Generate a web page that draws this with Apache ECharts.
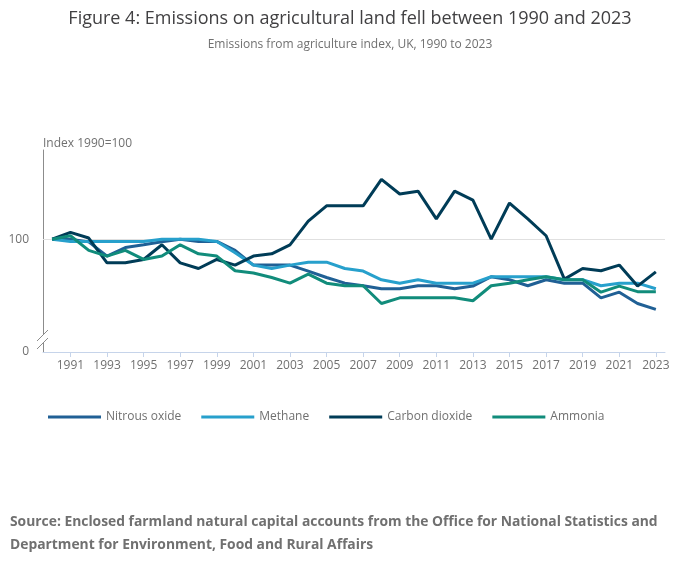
<!DOCTYPE html>
<html>
<head>
<meta charset="utf-8">
<script src="https://cdn.jsdelivr.net/npm/echarts@6/dist/echarts.min.js"></script>
<style>
html,body{margin:0;padding:0;background:#fff;}
#chart{width:700px;height:574px;}
</style>
</head>
<body>
<div id="chart"></div>
<script>
var years = ['1990','1991','1992','1993','1994','1995','1996','1997','1998','1999','2000','2001','2002','2003','2004','2005','2006','2007','2008','2009','2010','2011','2012','2013','2014','2015','2016','2017','2018','2019','2020','2021','2022','2023'];
var nitrousOxide = [100,100,97.6,85,92.6,95,97.7,100,98,98,90,77,77,77,71.7,66,61,58.7,56,56,58.7,58.7,56,58.4,66.7,64,58.7,64,61,61,48,53,43,37.8];
var methane = [100,98,98,98,98,98,100,100,100,98,88,77,74,77,79.6,79.6,74,71.7,64,61,64,61,61,61,66.7,66.7,66.7,66.7,64,64,58.7,61,61,56];
var carbonDioxide = [100,106,101,79,79,82,95,79,74,82,77,85,87,95,116,129.5,129.5,129.5,153,140,142.5,118,142.5,134.5,100,132,118,103,64.6,74,72,77,58.4,71];
var ammonia = [100,103,90,85,90,82,85,95,87,85,72,70,66,61,69,61,58.7,58.7,43,48,48,48,48,45.4,58.7,61,64,66.7,64,64,53,58.4,53.5,53.5];
var yTicks = [0, 100];
var seriesNames = ['Nitrous oxide','Methane','Carbon dioxide','Ammonia'];

var FONT = '"Open Sans", sans-serif';
var chart = echarts.init(document.getElementById('chart'), null, {renderer:'canvas'});
function mk(name, data, color, extra) {
  var s = {
    name: name, type: 'line', data: data, symbol: 'none', showSymbol: false,
    lineStyle: {width: 3, color: color}, itemStyle: {color: color},
    emphasis: {disabled: true}, animation: false
  };
  if (extra) Object.assign(s, extra);
  return s;
}
var oddIdx = function (i) { return i % 2 === 1; };
chart.setOption({
  animation: false,
  title: {
    text: 'Figure 4: Emissions on agricultural land fell between 1990 and 2023',
    subtext: 'Emissions from agriculture index, UK, 1990 to 2023',
    left: 'center', top: 5, itemGap: 11,
    textStyle: {fontFamily: FONT, fontSize: 18, fontWeight: 'normal', color: '#414042'},
    subtextStyle: {fontFamily: FONT, fontSize: 12, color: '#707070'}
  },
  legend: {
    data: seriesNames, left: 48, top: 411, padding: 0, icon: 'rect', itemWidth: 53, itemHeight: 3,
    itemGap: 20, textStyle: {fontFamily: FONT, fontSize: 12, color: '#707070'}
  },
  grid: {left: 43, right: 35, top: 150, bottom: 222, containLabel: false},
  xAxis: {
    type: 'category', data: years, boundaryGap: true,
    axisLine: {lineStyle: {color: '#c6d4ea', width: 1}},
    axisTick: {show: true, interval: oddIdx, alignWithLabel: true, length: 5, lineStyle: {color: '#c6d4ea'}},
    axisLabel: {interval: oddIdx, fontFamily: FONT, fontSize: 12, color: '#707070', margin: 8}
  },
  yAxis: {
    type: 'value', min: 0, max: 179, interval: 100,
    name: 'Index 1990=100', nameLocation: 'end', nameGap: 0,
    nameTextStyle: {fontFamily: FONT, fontSize: 12, color: '#707070', align: 'left', padding: [0,0,0,0]},
    axisLine: {show: true, lineStyle: {color: '#8c8c8c', width: 1}},
    axisTick: {show: false},
    splitLine: {show: false},
    axisLabel: {fontFamily: FONT, fontSize: 12, color: '#707070', margin: 14,
      formatter: function (v) { return yTicks.indexOf(v) >= 0 ? String(v) : ''; }, showMaxLabel: false}
  },
  series: [
    mk(seriesNames[0], nitrousOxide, '#206095', {
      markLine: {silent: true, symbol: 'none', label: {show: false},
        lineStyle: {color: '#e0e0e0', width: 1, type: 'solid'}, animation: false,
        data: [{yAxis: yTicks[1]}], z: 1}
    }),
    mk(seriesNames[1], methane, '#27a0cc'),
    mk(seriesNames[2], carbonDioxide, '#003c57'),
    mk(seriesNames[3], ammonia, '#118c7b')
  ],
  graphic: [
    {type: 'rect', shape: {x: 40, y: 335, width: 6, height: 8}, style: {fill: '#fff'}, z: 100},
    {type: 'line', shape: {x1: 37, y1: 341, x2: 48, y2: 330}, style: {stroke: '#8c8c8c', lineWidth: 1}, z: 101},
    {type: 'line', shape: {x1: 37, y1: 349, x2: 48, y2: 338}, style: {stroke: '#8c8c8c', lineWidth: 1}, z: 101},
    {type: 'text', left: 10, top: 511, style: {
      text: 'Source: Enclosed farmland natural capital accounts from the Office for National Statistics and\nDepartment for Environment, Food and Rural Affairs',
      font: 'bold 13.85px ' + FONT, fill: '#707070', lineHeight: 23}}
  ]
});
</script>
</body>
</html>
